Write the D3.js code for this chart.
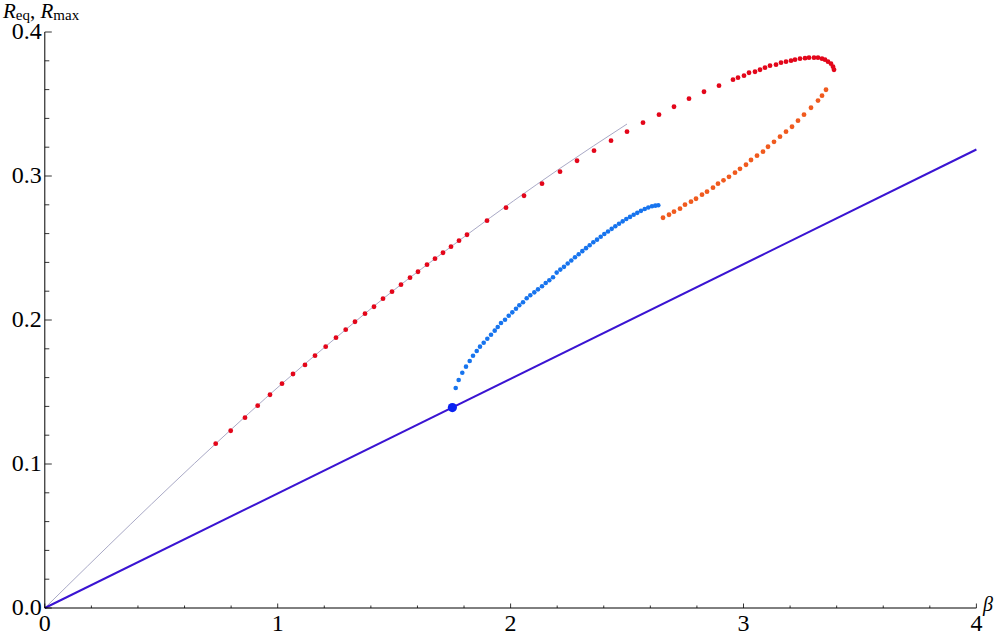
<!DOCTYPE html>
<html><head><meta charset="utf-8">
<script src="https://cdn.jsdelivr.net/npm/d3@7"></script>
<style>html,body{margin:0;padding:0;background:#fff;}svg{display:block;}</style>
</head><body>
<svg id="c" width="1000" height="637"></svg>
<script>
// ---- data (beta, R) ----
const xTicks = [0, 1, 2, 3, 4];
const yTicks = [0, 0.1, 0.2, 0.3, 0.4];
const xTickLabels = ["0", "1", "2", "3", "4"];
const yTickLabels = ["0.0", "0.1", "0.2", "0.3", "0.4"];

const grayCurve = [[0,0],[0.7338,0.1141],[1.0185,0.1558],[1.2503,0.1877],[1.4908,0.2197],[1.7441,0.2509],
  [1.8128,0.2592],[2.2122,0.3053],[2.4998,0.3361]];

const blueLine = [[0,0],[4,0.3184]];

const redBeta = [0.7338,0.7982,0.8596,0.9141,0.9669,1.0185,1.0657,1.1172,1.1602,1.2061,1.2503,1.2920,1.3319,1.3749,
  1.4135,1.4521,1.4908,1.5294,1.5681,1.6024,1.6411,1.6754,1.7098,1.7441,1.7785,1.8128,1.8987,1.9803,2.0576,2.1349,
  2.2122,2.2852,2.3582,2.4312,2.4998,2.5685,2.6372,2.7016,2.7660,2.8304,2.8948,2.9549,2.9764,3.0021,3.0236,3.0494,
  3.0709,3.0923,3.1138,3.1396,3.1610,3.1825,3.2040,3.2211,3.2426,3.2641,3.2813,3.3027,3.3199,3.3370,3.3499,3.3628,
  3.3757,3.3843,3.3886];
const redR = [0.1141,0.1231,0.1322,0.1405,0.1481,0.1558,0.1625,0.1688,0.1752,0.1815,0.1877,0.1933,0.1988,0.2044,
  0.2092,0.2148,0.2197,0.2245,0.2294,0.2335,0.2384,0.2426,0.2467,0.2509,0.2551,0.2592,0.2690,0.2780,0.2863,0.2947,
  0.3030,0.3106,0.3176,0.3245,0.3308,0.3370,0.3426,0.3481,0.3537,0.3585,0.3627,0.3669,0.3683,0.3697,0.3717,0.3724,
  0.3738,0.3752,0.3766,0.3773,0.3787,0.3794,0.3801,0.3808,0.3815,0.3818,0.3822,0.3822,0.3822,0.3815,0.3808,0.3794,
  0.3780,0.3759,0.3738];

const orangeBeta = [2.6544,2.6802,2.7016,2.7274,2.7488,2.7746,2.7961,2.8218,2.8433,2.8690,2.8905,2.9141,2.9377,
  2.9635,2.9849,3.0107,3.0322,3.0580,3.0837,3.1052,3.1310,3.1567,3.1825,3.2083,3.2340,3.2598,3.2898,3.3199,3.3371,3.3542];
const orangeR = [0.2710,0.2731,0.2752,0.2773,0.2801,0.2822,0.2842,0.2870,0.2891,0.2919,0.2947,0.2970,0.2994,
  0.3023,0.3050,0.3078,0.3111,0.3141,0.3169,0.3203,0.3237,0.3273,0.3308,0.3342,0.3384,0.3426,0.3474,0.3524,0.3558,0.3599];

const blueBeta = [1.7643,1.7771,1.7926,1.8085,1.8244,1.8386,1.8545,1.8686,1.8845,1.9000,1.9159,1.9318,1.9447,1.9588,
  1.9760,1.9919,2.0073,2.0232,2.0374,2.0533,2.0691,2.0846,2.1018,2.1177,2.1349,2.1507,2.1662,2.1821,2.1979,2.2134,
  2.2293,2.2452,2.2606,2.2765,2.2924,2.3079,2.3238,2.3396,2.3551,2.3710,2.3869,2.4023,2.4182,2.4341,2.4496,2.4655,
  2.4813,2.4968,2.5127,2.5285,2.5440,2.5599,2.5758,2.5912,2.6071,2.6213,2.6342];
const blueR = [0.1528,0.1583,0.1634,0.1676,0.1715,0.1752,0.1785,0.1815,0.1842,0.1870,0.1898,0.1926,0.1951,0.1979,
  0.2002,0.2030,0.2053,0.2078,0.2102,0.2123,0.2151,0.2172,0.2192,0.2213,0.2234,0.2257,0.2276,0.2297,0.2329,0.2350,
  0.2369,0.2392,0.2413,0.2436,0.2457,0.2478,0.2499,0.2519,0.2540,0.2558,0.2578,0.2597,0.2615,0.2633,0.2651,0.2668,
  0.2685,0.2701,0.2716,0.2731,0.2744,0.2758,0.2771,0.2781,0.2790,0.2794,0.2797];

const bigPoint = [1.75, 0.1392];

// ---- drawing ----
const svg = d3.select("#c");
const x = d3.scaleLinear().domain([0, 4]).range([44.8, 976.4]);
const y = d3.scaleLinear().domain([0, 0.4]).range([608, 32]);
const FONT = "'Liberation Serif','Times New Roman',serif";

svg.append("path").datum(grayCurve)
  .attr("d", d3.line().x(d => x(d[0])).y(d => y(d[1])).curve(d3.curveMonotoneX))
  .attr("fill", "none").attr("stroke", "#a9a9c6").attr("stroke-width", 1);

svg.append("path").datum(blueLine)
  .attr("d", d3.line().x(d => x(d[0])).y(d => y(d[1])))
  .attr("fill", "none").attr("stroke", "#3a14d2").attr("stroke-width", 2);

// axes
const gx = svg.append("g").attr("transform", `translate(0,${y(0)})`);
gx.append("line").attr("x1", x(0)).attr("x2", x(4)).attr("y1", 0).attr("y2", 0).attr("stroke", "#000").attr("stroke-width", 1);
gx.selectAll("line.tk").data(d3.range(0, 21)).enter().append("line")
  .attr("x1", i => x(i * 0.2)).attr("x2", i => x(i * 0.2))
  .attr("y1", 0).attr("y2", i => i % 5 === 0 ? -4.5 : -2.5)
  .attr("stroke", "#000").attr("stroke-width", 0.8);
gx.selectAll("text").data(xTicks).enter().append("text")
  .attr("x", d => x(d)).attr("y", 22.5)
  .attr("text-anchor", "middle").attr("font-family", FONT).attr("font-size", 24)
  .text((d, i) => xTickLabels[i]);

const gy = svg.append("g").attr("transform", `translate(${x(0)},0)`);
gy.append("line").attr("x1", 0).attr("x2", 0).attr("y1", y(0)).attr("y2", y(0.4)).attr("stroke", "#000").attr("stroke-width", 1);
gy.selectAll("line.tk").data(d3.range(0, 21)).enter().append("line")
  .attr("x1", 0).attr("x2", i => i % 5 === 0 ? 7 : 4.5)
  .attr("y1", i => y(i * 0.02)).attr("y2", i => y(i * 0.02))
  .attr("stroke", "#000").attr("stroke-width", 0.8);
gy.selectAll("text").data(yTicks).enter().append("text")
  .attr("x", -3).attr("y", d => y(d)).attr("dy", "0.3em")
  .attr("text-anchor", "end").attr("font-family", FONT).attr("font-size", 24)
  .text((d, i) => yTickLabels[i]);

// axis labels
const yl = svg.append("text").attr("x", 3).attr("y", 18).attr("font-family", FONT).attr("font-size", 21);
yl.append("tspan").attr("font-style", "italic").text("R");
yl.append("tspan").attr("font-size", 15).attr("dy", 2).text("eq");
yl.append("tspan").attr("dy", -2).text(", ");
yl.append("tspan").attr("font-style", "italic").text("R");
yl.append("tspan").attr("font-size", 15).attr("dy", 2).text("max");

svg.append("text").attr("x", 983).attr("y", 611).attr("font-family", FONT)
  .attr("font-size", 20).attr("font-style", "italic").text("β");

// points
function dots(bs, rs, color, r) {
  svg.append("g").selectAll("circle").data(bs.map((b, i) => [b, rs[i]])).enter().append("circle")
    .attr("cx", d => x(d[0])).attr("cy", d => y(d[1])).attr("r", r).attr("fill", color);
}
dots(redBeta, redR, "#e3061a", 2.4);
dots(orangeBeta, orangeR, "#f05a1e", 2.4);
dots(blueBeta, blueR, "#1774ee", 2.3);
svg.append("circle").attr("cx", x(bigPoint[0])).attr("cy", y(bigPoint[1])).attr("r", 4.6).attr("fill", "#0a22f2");
</script>
</body></html>
